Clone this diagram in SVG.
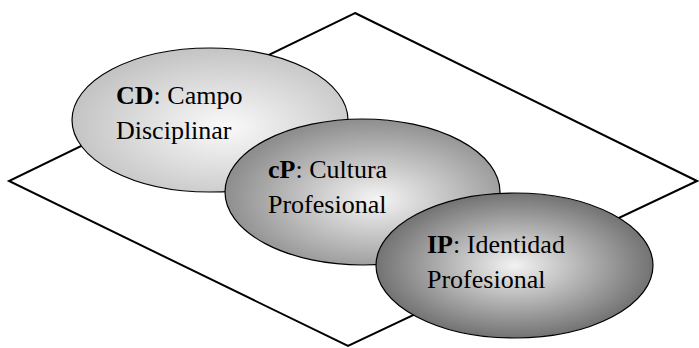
<svg xmlns="http://www.w3.org/2000/svg" width="699" height="348" viewBox="0 0 699 348">
  <style>
    .plane { fill: #ffffff; stroke: #000000; stroke-width: 2; stroke-linejoin: miter; }
    .oval { stroke: #000000; stroke-width: 1.2; }
    .lbl { font-size: 26px; fill: #000000; }
    .b { font-weight: bold; }
  </style>
  <defs>
    <radialGradient id="gradCD" cx="0.55" cy="0.55" r="0.55">
      <stop offset="0" stop-color="#fafafa"/>
      <stop offset="1" stop-color="#c4c4c4"/>
    </radialGradient>
    <radialGradient id="gradCP" cx="0.55" cy="0.55" r="0.55">
      <stop offset="0" stop-color="#f4f4f4"/>
      <stop offset="1" stop-color="#8e8e8e"/>
    </radialGradient>
    <radialGradient id="gradIP" cx="0.5" cy="0.5" r="0.55">
      <stop offset="0" stop-color="#f2f2f2"/>
      <stop offset="1" stop-color="#666666"/>
    </radialGradient>
  </defs>

  <!-- base plane -->
  <polygon class="plane" points="355,13 697,181 348,346 9,181"/>

  <g id="node-cd" font-family="Liberation Serif, Times New Roman, serif">
    <ellipse class="oval" cx="210" cy="120" rx="138" ry="72" fill="url(#gradCD)"/>
    <text class="lbl" x="116" y="103.5"><tspan class="b">CD</tspan>: Campo</text>
    <text class="lbl" x="116" y="138.5">Disciplinar</text>
  </g>

  <g id="node-cp" font-family="Liberation Serif, Times New Roman, serif">
    <ellipse class="oval" cx="362.5" cy="192" rx="137.5" ry="73" fill="url(#gradCP)"/>
    <text class="lbl" x="268" y="178"><tspan class="b">cP</tspan>: Cultura</text>
    <text class="lbl" x="268" y="213">Profesional</text>
  </g>

  <g id="node-ip" font-family="Liberation Serif, Times New Roman, serif">
    <ellipse class="oval" cx="514.5" cy="265.5" rx="138.5" ry="72.5" fill="url(#gradIP)"/>
    <text class="lbl" x="427" y="253"><tspan class="b">IP</tspan>: Identidad</text>
    <text class="lbl" x="427" y="288">Profesional</text>
  </g>

  <g id="connectors"></g>
</svg>
